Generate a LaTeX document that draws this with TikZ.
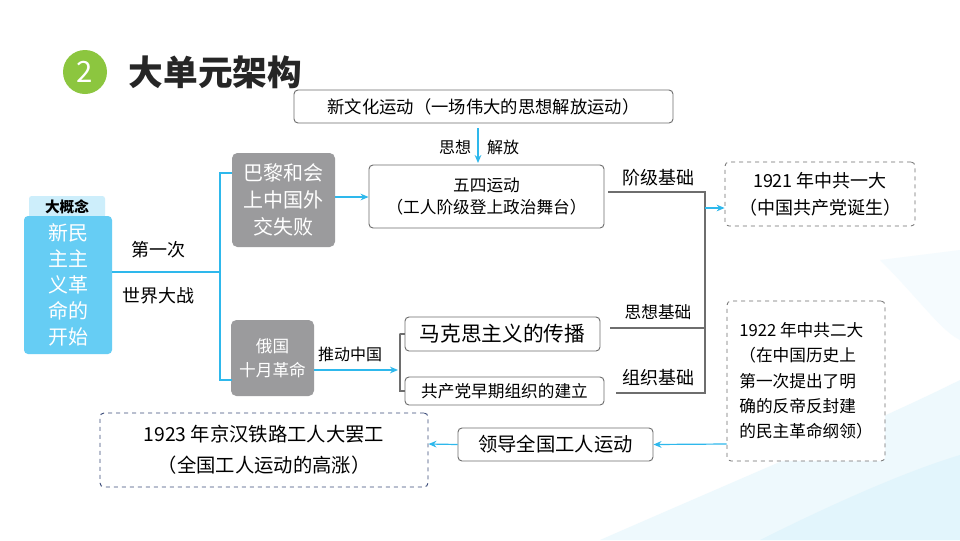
\documentclass[tikz,border=0pt]{standalone}
\usepackage{fontspec}
\setmainfont{Noto Sans CJK SC}
\newfontfamily\cjk{Noto Sans CJK SC}
\usetikzlibrary{arrows.meta}
\definecolor{cblue}{HTML}{2EB8EC}
\definecolor{cgray}{HTML}{9B9B9D}
\definecolor{bord}{HTML}{6E6E6E}
\definecolor{conc}{HTML}{66CDF4}
\definecolor{tab}{HTML}{CDEEFB}
\definecolor{navy}{HTML}{3A4A78}
\definecolor{cgreen}{HTML}{8CC63F}
\begin{document}
\begin{tikzpicture}[x=0.75pt,y=-0.75pt,
 box/.style={draw=bord,rounded corners=3pt,line width=0.7pt,fill=white},
 dbox/.style={draw=bord,dashed,rounded corners=3pt,line width=0.6pt,fill=white},
 gbox/.style={fill=cgray,rounded corners=4pt,text=white},
 t/.style={font=\cjk\fontsize{12}{15}\selectfont,inner sep=0pt},
 arr/.style={draw=cblue,line width=0.9pt,-{Stealth[length=6pt,width=5pt]}},
 ln/.style={draw=bord,line width=0.8pt},
 bl/.style={draw=cblue,line width=1pt}]
\useasboundingbox (0,0) rectangle (960,540);
\fill[white] (0,0) rectangle (960,540);
% background swooshes
\fill[cblue!8] (600,540) .. controls (760,470) and (880,420) .. (960,380) -- (960,540) -- cycle;
\fill[cblue!14] (760,540) .. controls (840,500) and (910,470) .. (960,455) -- (960,540) -- cycle;
\fill[cblue!5] (880,260) .. controls (920,300) and (940,330) .. (960,340) -- (960,250) -- cycle;
% title
\node[circle,fill=cgreen,minimum size=44pt*0.75,inner sep=0pt,text=white,font=\cjk\fontsize{22}{22}\selectfont] (num) at (85,72) {2};
\node[anchor=west,font=\cjk\bfseries\fontsize{26}{26}\selectfont,text=black!85] (title) at (124,72) {大单元架构};
% boxes
\node[box,t,font=\cjk\fontsize{13}{15}\selectfont,minimum width=379*0.75pt,minimum height=33*0.75pt] (xwh) at (483.5,106.5) {新文化运动（一场伟大的思想解放运动）};
\node[box,t,font=\cjk\fontsize{12.5}{15}\selectfont,minimum width=235*0.75pt,minimum height=63*0.75pt,align=center] (ws) at (486.5,196.5) {五四运动\\[2pt]（工人阶级登上政治舞台）};
\node[fill=tab,rounded corners=2pt,minimum width=76*0.75pt,minimum height=22*0.75pt,inner sep=0pt,font=\cjk\bfseries\fontsize{11}{11}\selectfont] (tabn) at (67,207) {大概念};
\node[fill=conc,rounded corners=3pt,minimum width=88*0.75pt,minimum height=138*0.75pt,text=white,align=center,inner sep=0pt,font=\cjk\fontsize{15}{19.5}\selectfont] (con) at (68,285) {新民\\主主\\义革\\命的\\开始};
\node[gbox,minimum width=103*0.75pt,minimum height=94*0.75pt,align=center,inner sep=0pt,font=\cjk\fontsize{15}{20}\selectfont] (bl) at (283.5,200) {巴黎和会\\上中国外\\交失败};
\node[gbox,minimum width=83*0.75pt,minimum height=76*0.75pt,align=center,inner sep=0pt,font=\cjk\fontsize{12.5}{18}\selectfont] (eg) at (272.5,358) {俄国\\十月革命};
\node[box,minimum width=195*0.75pt,minimum height=34*0.75pt,inner sep=0pt,font=\cjk\fontsize{15.5}{15}\selectfont] (mk) at (502.5,334) {马克思主义的传播};
\node[box,t,font=\cjk\fontsize{12.5}{15}\selectfont,minimum width=199*0.75pt,minimum height=28*0.75pt] (gc) at (504.5,391) {共产党早期组织的建立};
\node[dbox,t,font=\cjk\fontsize{13.5}{15}\selectfont,minimum width=190*0.75pt,minimum height=64*0.75pt,align=center] (y21) at (820,194) {1921 年中共一大\\[5pt]（中国共产党诞生）};
\node[dbox,t,font=\cjk\fontsize{12.5}{15}\selectfont,minimum width=158*0.75pt,minimum height=160*0.75pt,align=left] (y22) at (806,381) {1922 年中共二大\\[4pt]（在中国历史上\\[4pt]第一次提出了明\\[4pt]确的反帝反封建\\[4pt]的民主革命纲领）};
\node[box,minimum width=195*0.75pt,minimum height=33*0.75pt,inner sep=0pt,font=\cjk\fontsize{14.5}{14}\selectfont] (ld) at (555.5,444.5) {领导全国工人运动};
\node[draw=navy,dashed,rounded corners=3pt,line width=0.7pt,fill=white,minimum width=328*0.75pt,minimum height=74*0.75pt,align=center,inner sep=0pt,font=\cjk\fontsize{14.5}{17}\selectfont] (y23) at (264,450) {1923 年京汉铁路工人大罢工\\[6pt]（全国工人运动的高涨）};
% connectors
\coordinate (a1) at (478,128);
\draw[arr] (a1) -- (478,163);
\node[t] (sx) at (455,147) {思想};
\node[t] (jf) at (503,147) {解放};
\draw[bl] (con.east|-0,272) -- (220,272);
\node[t,font=\cjk\fontsize{13.5}{13}\selectfont] (dyc) at (158,250) {第一次};
\node[t,font=\cjk\fontsize{13.5}{13}\selectfont] (sjdz) at (158,296) {世界大战};
\draw[bl] (232,173) -- (220,173) -- (220,380) -- (232,380);
\draw[arr] (bl.east|-0,197) -- (ws.west|-0,197);
\draw[arr] (eg.east|-0,370) -- (398,370);
\node[t] (tdzg) at (350,354) {推动中国};
\draw[ln] (mk.west) -- ++(-5,0) -- (400,334) -- (400,391) -- (gc.west);
\draw[ln] (608,192) -- (705,192) -- (705,393) -- (616,393);
\draw[ln] (610,328) -- (705,328);
\node[t,font=\cjk\fontsize{13.5}{13}\selectfont] (jj) at (658,178) {阶级基础};
\node[t,font=\cjk\fontsize{12.5}{13}\selectfont] (sxjc) at (658,312) {思想基础};
\node[t,font=\cjk\fontsize{13.5}{13}\selectfont] (zz) at (658,378) {组织基础};
\draw[arr] (705,208) -- (y21.west|-0,208);
\draw[arr] (y22.west|-0,444) -- (ld.east);
\draw[arr] (ld.west) -- (y23.east|-0,444);
\end{tikzpicture}
\end{document}
